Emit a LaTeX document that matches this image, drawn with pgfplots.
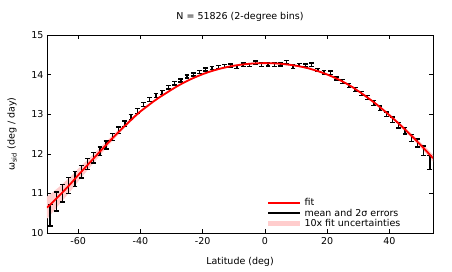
\documentclass[border=0pt]{standalone}
\usepackage{pgfplots}
\pgfplotsset{compat=1.18}
\usepackage{pgfplotstable}
\usepgfplotslibrary{fillbetween}
\usepackage{fontspec}
\setmainfont{DejaVu Sans}
\definecolor{fitred}{RGB}{255,0,0}
\definecolor{bandpink}{RGB}{255,205,205}

\pgfplotstableread{
x y e
-70 10.64 0.28
-68 10.79 0.25
-66 10.95 0.22
-64 11.11 0.20
-62 11.28 0.18
-60 11.46 0.16
-58 11.63 0.14
-56 11.80 0.12
-54 11.97 0.105
-52 12.14 0.09
-50 12.31 0.075
-48 12.47 0.065
-46 12.63 0.055
-44 12.78 0.045
-42 12.93 0.04
-40 13.07 0.035
-38 13.19 0.03
-36 13.31 0.03
-34 13.42 0.025
-32 13.52 0.025
-30 13.62 0.025
-28 13.714 0.02
-26 13.80 0.02
-24 13.877 0.02
-22 13.947 0.02
-20 14.011 0.02
-18 14.067 0.02
-16 14.115 0.02
-14 14.158 0.02
-12 14.194 0.02
-10 14.224 0.02
-8 14.248 0.02
-6 14.266 0.02
-4 14.280 0.02
-2 14.287 0.02
0 14.29 0.02
2 14.287 0.02
4 14.280 0.02
6 14.266 0.02
8 14.248 0.02
10 14.224 0.02
12 14.194 0.02
14 14.158 0.02
16 14.112 0.02
18 14.062 0.02
20 14.003 0.02
22 13.937 0.02
24 13.864 0.02
26 13.782 0.025
28 13.690 0.025
30 13.585 0.025
32 13.475 0.03
34 13.36 0.03
36 13.24 0.03
38 13.11 0.03
40 12.975 0.035
42 12.835 0.04
44 12.69 0.045
46 12.54 0.05
48 12.385 0.06
50 12.225 0.07
52 12.06 0.08
54 11.89 0.09
}\fittable

\pgfplotstableread{
x y e
-69 10.45 0.27
-67 10.80 0.24
-65 11.00 0.22
-63 11.20 0.20
-61 11.37 0.19
-59 11.55 0.16
-57 11.74 0.14
-55 11.90 0.13
-53 12.06 0.11
-51 12.22 0.10
-49 12.42 0.09
-47 12.60 0.08
-45 12.76 0.07
-43 12.93 0.06
-41 13.08 0.06
-39 13.24 0.05
-37 13.37 0.05
-35 13.47 0.05
-33 13.55 0.05
-31 13.68 0.04
-29 13.78 0.04
-27 13.85 0.04
-25 13.95 0.04
-23 14.00 0.04
-21 14.07 0.04
-19 14.13 0.04
-17 14.17 0.04
-15 14.19 0.04
-13 14.22 0.04
-11 14.23 0.04
-9 14.19 0.04
-7 14.25 0.04
-5 14.24 0.04
-3 14.30 0.04
-1 14.25 0.04
1 14.26 0.04
3 14.25 0.04
5 14.26 0.04
7 14.32 0.04
9 14.20 0.04
11 14.24 0.04
13 14.23 0.04
15 14.25 0.04
17 14.12 0.04
19 14.06 0.04
21 14.05 0.04
23 13.90 0.04
25 13.82 0.05
27 13.72 0.05
29 13.62 0.05
31 13.52 0.05
33 13.42 0.05
35 13.28 0.06
37 13.15 0.06
39 13.00 0.06
41 12.86 0.07
43 12.72 0.07
45 12.58 0.08
47 12.40 0.09
49 12.27 0.10
51 12.08 0.12
53 11.78 0.18
}\datatable

\begin{document}
\fontsize{10}{12}\selectfont
\begin{tikzpicture}
\begin{axis}[
  at={(0pt,0pt)}, anchor=south west,
  scale only axis, width=386pt, height=198pt,
  xmin=-70, xmax=54, ymin=10, ymax=15,
  xtick={-60,-40,-20,0,20,40},
  ytick={10,11,12,13,14,15},
  tick align=inside,
  major tick length=4pt,
  tick style={black, line width=0.5pt},
  axis line style={black, line width=0.8pt},
  /pgf/number format/assume math mode=true,
  ticklabel style={font=\fontsize{9.5}{11}\selectfont},
  xticklabel style={yshift=-1pt},
  label style={font=\fontsize{9.5}{11}\selectfont},
  title style={font=\fontsize{9.5}{11}\selectfont, at={(axis description cs:0.5,1)}, anchor=center, yshift=12pt},
  title={N = 51826 (2-degree bins)},
  xlabel={Latitude (deg)},
  ylabel={ω\textsubscript{sid} (deg / day)},
  xlabel style={at={(axis description cs:0.5,-0.1465)}, anchor=center},
  ylabel style={at={(axis description cs:-0.0907,0.5)}, anchor=center},
  legend cell align=left,
  legend style={at={(0.563,0.01)}, anchor=south west, draw=none, fill=none,
    font=\fontsize{9.5}{11}\selectfont, row sep=-2.5pt, inner sep=1pt},
  legend image code/.code={\draw[#1] (0pt,0pt) -- (32pt,0pt);},
]
\addplot[name path=up, draw=none, forget plot] table[x=x, y expr=\thisrow{y}+\thisrow{e}] {\fittable};
\addplot[name path=lo, draw=none, forget plot] table[x=x, y expr=\thisrow{y}-\thisrow{e}] {\fittable};
\addplot[bandpink, forget plot] fill between[of=up and lo];
\addplot[draw=none, mark=none, forget plot,
  error bars/.cd, y dir=both, y explicit,
  error bar style={draw=black, line width=1.4pt},
  error mark options={draw=black, rotate=90, mark size=2.4pt, line width=1.4pt}]
  table[x=x, y=y, y error=e] {\datatable};
\addplot[fitred, line width=1.8pt, forget plot] table[x=x, y=y] {\fittable};
\addlegendimage{fitred, line width=1.8pt}
\addlegendentry{fit}
\addlegendimage{black, line width=1.8pt}
\addlegendentry{mean and 2σ errors}
\addlegendimage{bandpink, line width=5pt}
\addlegendentry{10x fit uncertainties}
\end{axis}
\pgfresetboundingbox
\path[use as bounding box] (-47pt,-38pt) rectangle (405pt,233pt);
\end{tikzpicture}
\end{document}
